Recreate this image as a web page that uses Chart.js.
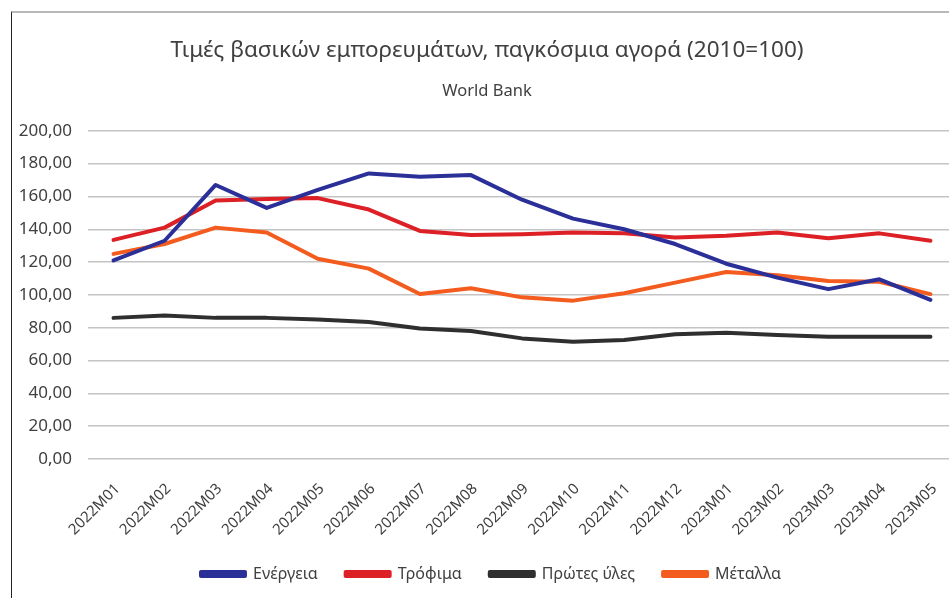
<!DOCTYPE html>
<html>
<head>
<meta charset="utf-8">
<script src="https://cdn.jsdelivr.net/npm/chart.js@4.4.1/dist/chart.umd.min.js"></script>
<style>
  html, body { margin: 0; padding: 0; background: #fff; overflow: hidden; width: 949px; height: 598px; }
  #frame { position: absolute; left: 11px; top: 11px; width: 960px; height: 600px;
           border-left: 1px solid #222; border-top: 2px solid #b8b8b8; }
  #wrap { position: absolute; left: 12px; top: 14px; width: 950px; height: 584px; }
</style>
</head>
<body>
<div id="frame"></div>
<div id="wrap"><canvas id="c"></canvas></div>
<script>
const categories = ["2022M01","2022M02","2022M03","2022M04","2022M05","2022M06","2022M07","2022M08","2022M09","2022M10","2022M11","2022M12","2023M01","2023M02","2023M03","2023M04","2023M05"];
const energy    = [121, 133, 167, 153, 164, 174, 172, 173, 158, 146.5, 140, 131, 119, 110.5, 103.5, 109.5, 97];
const food      = [133.5, 141, 157.5, 158.5, 159, 152, 139, 136.5, 137, 138, 137.5, 135, 136, 138, 134.5, 137.5, 133];
const rawMat    = [86, 87.5, 86, 86, 85, 83.5, 79.5, 78, 73.5, 71.5, 72.5, 76, 77, 75.5, 74.5, 74.5, 74.5];
const metals    = [125, 131, 141, 138, 122, 116, 100.5, 104, 98.5, 96.5, 101, 107.5, 114, 112, 108.5, 108, 100.5];
const seriesNames = ["Ενέργεια", "Τρόφιμα", "Πρώτες ύλες", "Μέταλλα"];
const yTicks = [0, 20, 40, 60, 80, 100, 120, 140, 160, 180, 200];
const titleText = "Τιμές βασικών εμπορευμάτων, παγκόσμια αγορά (2010=100)";
const subtitleText = "World Bank";

const colors = ["#2b2f98", "#dd1f26", "#2f2f2f", "#f45b1e"];
const values = [energy, food, rawMat, metals];

const FONT = "'Noto Sans', 'DejaVu Sans', sans-serif";

const shiftLegend = {
  id: 'shiftLegend',
  afterLayout(chart) {
    const lg = chart.legend;
    if (lg) { lg.left += 4; lg.right += 4; }
  }
};

new Chart(document.getElementById('c'), {
  type: 'line',
  data: {
    labels: categories,
    datasets: values.map((v, i) => ({
      label: seriesNames[i],
      data: v,
      borderColor: colors[i],
      backgroundColor: colors[i],
      borderWidth: 4,
      pointRadius: 0,
      tension: 0,
      borderCapStyle: 'round',
      borderJoinStyle: 'round'
    }))
  },
  plugins: [shiftLegend],
  options: {
    responsive: true,
    maintainAspectRatio: false,
    animation: false,
    layout: { padding: { left: 6, right: 6, top: 0, bottom: 6 } },
    plugins: {
      title: {
        display: true,
        text: titleText,
        color: '#404040',
        font: { family: FONT, size: 22.5, weight: 'normal' },
        padding: { top: 23, bottom: 0 }
      },
      subtitle: {
        display: true,
        text: subtitleText,
        color: '#404040',
        font: { family: FONT, size: 16.5, weight: 'normal' },
        padding: { top: 17, bottom: 30 }
      },
      legend: {
        display: true,
        position: 'bottom',
        labels: {
          boxWidth: 44,
          boxHeight: 4,
          padding: 28,
          color: '#404040',
          font: { family: FONT, size: 16 }
        }
      },
      tooltip: { enabled: false }
    },
    scales: {
      x: {
        offset: true,
        grid: { display: false, drawTicks: false },
        border: { display: false },
        afterFit: (s) => { s.paddingLeft = 0; s.paddingRight = 0; s.height = 79; },
        ticks: {
          color: '#404040',
          font: { family: FONT, size: 15 },
          minRotation: 45,
          maxRotation: 45,
          autoSkip: false,
          padding: 21,
          labelOffset: 4
        }
      },
      y: {
        min: 0,
        max: 200,
        afterBuildTicks: (scale) => { scale.ticks = yTicks.map(v => ({ value: v })); },
        afterFit: (s) => { s.width = 70; },
        grid: { color: '#c4c4c4', lineWidth: 1.5, drawTicks: false },
        border: { display: false },
        ticks: {
          color: '#404040',
          font: { family: FONT, size: 17 },
          padding: 16,
          callback: (v) => Number(v).toFixed(2).replace('.', ',')
        }
      }
    }
  }
});
</script>
</body>
</html>
